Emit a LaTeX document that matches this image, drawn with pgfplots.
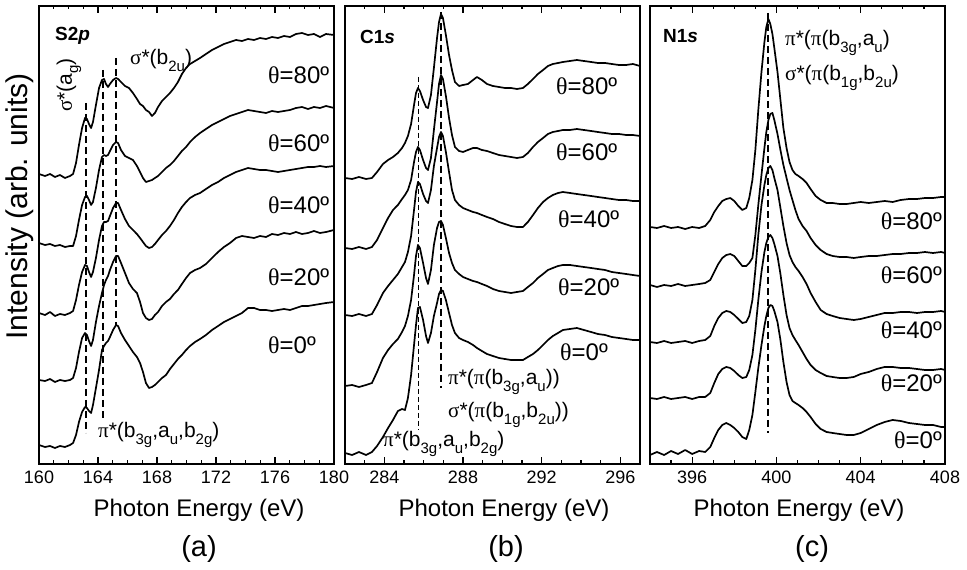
\documentclass[border=0pt]{standalone}
\usepackage{fontspec}
\setmainfont{Liberation Sans}
\newfontfamily\gr{Liberation Serif}
\usepackage{pgfplots}
\usepackage{pgfplotstable}
\pgfplotsset{compat=1.18}

\newcommand{\fs}[1]{\fontsize{#1}{#1}\selectfont}
\newcommand{\sub}[1]{\raisebox{-0.3em}{\fs{15}#1}}
\newcommand{\thl}[1]{{\gr θ}=#1º}

\pgfplotstableread{
E a1 a2 a3 a4 a5
160.00 290 221 151 84 19
160.41 288 219 149 83 17
160.75 290 220 152 85 18
161.08 287 218 148 82 16
161.42 289 219 150 84 18
161.76 286 217 149 83 17
162.10 288 218 151 84 19
162.31 290 218 153 86 21
162.51 301 228 164 96 29
162.71 319 244 179 112 42
162.92 336 259 192 126 52
163.12 346 267 199 131 57
163.25 345 268 198 129 56
163.39 340 264 192 123 53
163.53 336 259 187 118 51
163.66 342 262 192 124 59
163.86 359 276 206 142 76
164.07 376 294 224 158 94
164.27 384 307 238 171 114
164.41 385 309 242 179 118
164.54 380 308 242 184 121
164.68 377 309 243 188 123
164.81 380 313 248 194 127
165.02 384 319 256 202 134
165.22 386 322 261 208 139
165.36 385 321 261 208 138
165.56 382 314 254 201 131
165.83 378 308 245 191 124
166.10 376 306 238 181 118
166.37 371 304 234 175 112
166.64 365 298 230 171 107
166.85 360 292 226 162 101
167.05 358 286 222 151 92
167.25 354 282 218 146 81
167.46 352 283 216 144 76
167.66 348 284 217 145 77
167.86 351 286 220 149 79
168.07 357 288 224 152 82
168.34 363 292 229 158 86
168.61 367 296 233 162 89
168.88 371 299 238 165 95
169.15 376 303 244 170 100
169.42 382 308 251 174 105
169.69 390 313 257 180 109
169.97 396 317 262 186 114
170.24 400 322 266 191 118
170.58 403 327 269 194 122
170.92 406 331 271 196 125
171.32 410 335 275 200 129
171.73 414 339 279 206 134
172.14 417 342 282 212 138
172.54 420 345 286 217 142
172.95 422 348 289 221 145
173.36 424 350 292 226 148
173.76 423 352 294 228 151
174.17 425 354 296 227 156
174.58 424 353 295 226 156
174.98 426 352 294 228 154
175.39 425 351 294 227 154
175.80 427 353 293 230 153
176.20 426 352 292 229 154
176.61 428 353 293 231 155
177.02 427 354 294 230 154
177.42 430 356 295 232 156
177.83 431 357 296 230 158
178.24 429 355 297 231 158
178.64 430 357 297 233 159
179.05 427 356 298 231 160
179.46 430 358 297 232 161
180.00 429 356 298 234 162
}\tA

\pgfplotstableread{
E b1 b2 b3 b4 b5
282.00 286 216 149 78 11
282.36 285 215 148 79 9
282.71 287 217 150 77 12
283.07 285 215 148 79 9
283.37 286 217 150 81 12
283.63 292 224 159 92 18
283.93 300 236 171 106 27
284.19 304 246 178 114 36
284.44 307 254 184 120 44
284.69 311 259 190 125 53
284.90 316 265 197 132 55
285.05 321 269 202 138 54
285.20 328 274 212 148 66
285.36 340 284 228 164 89
285.51 359 302 254 189 119
285.61 371 312 272 208 139
285.71 376 317 282 219 156
285.81 373 314 280 216 157
285.97 364 304 270 201 144
286.12 357 296 263 186 128
286.22 356 294 261 180 121
286.37 369 306 274 194 131
286.52 396 334 298 219 148
286.68 426 362 316 236 161
286.78 442 380 327 242 170
286.88 450 389 332 243 174
286.98 446 385 328 239 173
287.13 429 368 312 226 164
287.29 409 346 292 211 151
287.44 394 329 274 201 139
287.59 382 317 264 194 131
287.80 378 313 259 190 126
288.00 379 312 256 187 124
288.25 380 314 254 185 122
288.51 384 316 252 183 119
288.71 387 316 251 182 116
288.96 384 314 249 180 113
289.22 380 313 247 178 110
289.52 378 311 245 175 108
289.83 377 309 242 173 106
290.13 376 308 240 172 105
290.44 376 307 238 171 104
290.74 375 306 237 172 104
291.05 376 307 237 173 104
291.30 380 311 242 177 107
291.56 385 317 249 181 110
291.81 390 322 256 186 114
292.07 394 326 262 190 119
292.32 398 330 266 194 124
292.57 400 332 269 196 128
292.83 401 333 271 198 131
293.08 402 334 272 199 134
293.44 403 334 271 199 135
293.79 404 335 270 198 136
294.15 403 334 269 197 134
294.51 402 333 268 196 132
294.86 401 332 267 195 130
295.22 401 331 266 194 129
295.57 400 330 265 192 127
295.93 399 330 264 191 126
296.29 399 329 264 190 125
296.64 400 329 263 189 124
297.00 398 328 263 188 124
}\tB

\pgfplotstableread{
E c1 c2 c3 c4 c5
394.00 237 179 122 66 9
394.33 236 177 121 65 12
394.67 238 179 123 67 9
395.00 236 178 121 65 13
395.33 237 180 122 66 10
395.67 235 178 123 67 14
396.00 237 179 121 65 10
396.33 236 180 123 67 13
396.62 238 181 124 67 12
396.86 244 184 128 71 17
397.05 252 192 138 81 26
397.24 258 200 146 90 34
397.43 263 206 151 95 39
397.62 265 209 153 97 41
397.81 266 210 152 96 39
398.00 263 208 149 93 36
398.19 258 203 145 89 32
398.38 254 198 141 86 27
398.57 256 198 142 87 25
398.71 266 201 148 94 34
398.86 284 206 164 109 49
399.00 314 229 194 134 72
399.14 354 259 229 164 96
399.29 392 289 259 192 119
399.43 422 316 279 212 138
399.52 437 332 289 221 148
399.62 445 344 296 227 156
399.71 440 350 298 229 159
399.81 430 351 294 226 158
399.90 416 344 286 220 153
400.05 392 330 274 208 142
400.19 364 314 256 190 124
400.33 336 299 238 169 102
400.48 316 286 221 149 82
400.62 302 274 209 136 69
400.76 294 264 202 129 63
400.90 290 254 197 124 61
401.05 288 245 193 119 59
401.24 285 238 187 112 56
401.43 281 233 180 105 52
401.62 275 226 171 99 47
401.86 268 219 162 94 40
402.10 264 214 154 91 35
402.38 261 210 150 88 32
402.67 261 208 148 87 31
403.00 260 207 146 86 30
403.33 260 207 145 86 29
403.67 261 206 144 87 29
404.00 262 207 145 90 31
404.38 261 208 147 92 35
404.76 262 208 149 95 39
405.14 263 209 151 97 42
405.52 262 210 151 97 44
405.90 264 210 152 96 43
406.29 265 211 152 96 41
406.67 265 211 151 95 40
407.05 266 212 152 94 39
407.43 266 211 152 94 39
407.81 267 212 153 95 37
408.00 267 211 152 94 37
}\tC

\pgfplotsset{
  panel/.style={
    scale only axis, width=295pt, height=458pt,
    ymin=0, ymax=458,
    ytick=\empty,
    axis line style={line width=1.6pt},
    tick style={line width=1.2pt, black},
    major tick length=7pt, minor tick length=3.5pt,
    tick align=inside,
    xtick pos=both,
    xticklabel pos=lower,
    /pgf/number format/assume math mode=true,
    xticklabel style={font=\fs{18}, yshift=-3pt},
  },
}
\tikzset{
  dsh/.style={line width=1.6pt, dash pattern=on 7pt off 4pt},
  crv/.style={black, line width=1.7pt, no marks, line join=round},
}

\begin{document}
\begin{tikzpicture}
\useasboundingbox (0,0) rectangle (967pt,570pt);

\begin{axis}[panel, at={(39pt,106pt)}, anchor=south west,
  xmin=160, xmax=180, xtick={160,164,...,180}, minor xtick={160,161,...,180}]
\addplot[crv] table[x=E,y=a1]{\tA};
\addplot[crv] table[x=E,y=a2]{\tA};
\addplot[crv] table[x=E,y=a3]{\tA};
\addplot[crv] table[x=E,y=a4]{\tA};
\addplot[crv] table[x=E,y=a5]{\tA};
\draw[dsh] (axis cs:163.19,361) -- (axis cs:163.19,31);
\draw[dsh] (axis cs:164.34,394) -- (axis cs:164.34,46);
\draw[dsh] (axis cs:165.22,406) -- (axis cs:165.22,139);
\end{axis}

\begin{axis}[panel, at={(345pt,106pt)}, anchor=south west,
  xmin=282, xmax=297, xtick={284,288,292,296}, minor xtick={282,283,...,297}]
\addplot[crv] table[x=E,y=b1]{\tB};
\addplot[crv] table[x=E,y=b2]{\tB};
\addplot[crv] table[x=E,y=b3]{\tB};
\addplot[crv] table[x=E,y=b4]{\tB};
\addplot[crv] table[x=E,y=b5]{\tB};
\draw[line width=0.9pt, dash pattern=on 5pt off 3pt] (axis cs:285.73,387) -- (axis cs:285.73,34);
\draw[dsh] (axis cs:286.88,452) -- (axis cs:286.88,76);
\end{axis}

\begin{axis}[panel, at={(650pt,106pt)}, anchor=south west,
  xmin=394, xmax=408, xtick={396,400,404,408}, minor xtick={394,395,...,408}]
\addplot[crv] table[x=E,y=c1]{\tC};
\addplot[crv] table[x=E,y=c2]{\tC};
\addplot[crv] table[x=E,y=c3]{\tC};
\addplot[crv] table[x=E,y=c4]{\tC};
\addplot[crv] table[x=E,y=c5]{\tC};
\draw[dsh] (axis cs:399.6,451) -- (axis cs:399.6,31);
\end{axis}

\begin{scope}[every node/.style={inner sep=0pt}]
% axis labels
\node[font=\fs{30}, rotate=90] at (20pt,363.5pt) {Intensity (arb. units)};
\node[font=\fs{24}, anchor=base] at (199pt,53pt) {Photon Energy (eV)};
\node[font=\fs{24}, anchor=base] at (504pt,53pt) {Photon Energy (eV)};
\node[font=\fs{24}, anchor=base] at (799pt,53pt) {Photon Energy (eV)};
\node[font=\fs{29}, anchor=base] at (199pt,13pt) {(a)};
\node[font=\fs{29}, anchor=base] at (506pt,13pt) {(b)};
\node[font=\fs{29}, anchor=base] at (812pt,13pt) {(c)};
% panel a
\node[font=\fs{19}\bfseries, anchor=west] at (55pt,534pt) {S2\textit{p}};
\node[font=\fs{21}, rotate=90] at (69pt,485pt) {{\gr σ}*(a\sub{g})};
\node[font=\fs{21}, anchor=base west] at (130pt,505pt) {{\gr σ}*(b\sub{2u})};
\node[font=\fs{21}, anchor=base west] at (98pt,132pt) {{\gr π}*(b\sub{3g},a\sub{u},b\sub{2g})};
\node[font=\fs{24}, anchor=west] at (268pt,495pt) {\thl{80}};
\node[font=\fs{24}, anchor=west] at (268pt,427pt) {\thl{60}};
\node[font=\fs{24}, anchor=west] at (268pt,365pt) {\thl{40}};
\node[font=\fs{24}, anchor=west] at (268pt,293pt) {\thl{20}};
\node[font=\fs{24}, anchor=west] at (268pt,225pt) {\thl{0}};
% panel b
\node[font=\fs{19}\bfseries, anchor=west] at (360pt,533pt) {C1\textit{s}};
\node[font=\fs{24}, anchor=west] at (556pt,484pt) {\thl{80}};
\node[font=\fs{24}, anchor=west] at (556pt,418pt) {\thl{60}};
\node[font=\fs{24}, anchor=west] at (558pt,351pt) {\thl{40}};
\node[font=\fs{24}, anchor=west] at (558pt,283pt) {\thl{20}};
\node[font=\fs{24}, anchor=west] at (560pt,218pt) {\thl{0}};
\node[font=\fs{21}, anchor=west] at (448pt,188pt) {{\gr π}*({\gr π}(b\sub{3g},a\sub{u}))};
\node[font=\fs{21}, anchor=west] at (448pt,155pt) {{\gr σ}*({\gr π}(b\sub{1g},b\sub{2u}))};
\node[font=\fs{21}, anchor=west] at (383pt,126pt) {{\gr π}*(b\sub{3g},a\sub{u},b\sub{2g})};
% panel c
\node[font=\fs{19}\bfseries, anchor=west] at (663pt,534pt) {N1\textit{s}};
\node[font=\fs{21}, anchor=west] at (785pt,527pt) {{\gr π}*({\gr π}(b\sub{3g},a\sub{u})};
\node[font=\fs{21}, anchor=west] at (785pt,492pt) {{\gr σ}*({\gr π}(b\sub{1g},b\sub{2u})};
\node[font=\fs{24}, anchor=east] at (942pt,349pt) {\thl{80}};
\node[font=\fs{24}, anchor=east] at (942pt,295pt) {\thl{60}};
\node[font=\fs{24}, anchor=east] at (942pt,240pt) {\thl{40}};
\node[font=\fs{24}, anchor=east] at (942pt,187pt) {\thl{20}};
\node[font=\fs{24}, anchor=east] at (942pt,130pt) {\thl{0}};
\end{scope}
\end{tikzpicture}
\end{document}
